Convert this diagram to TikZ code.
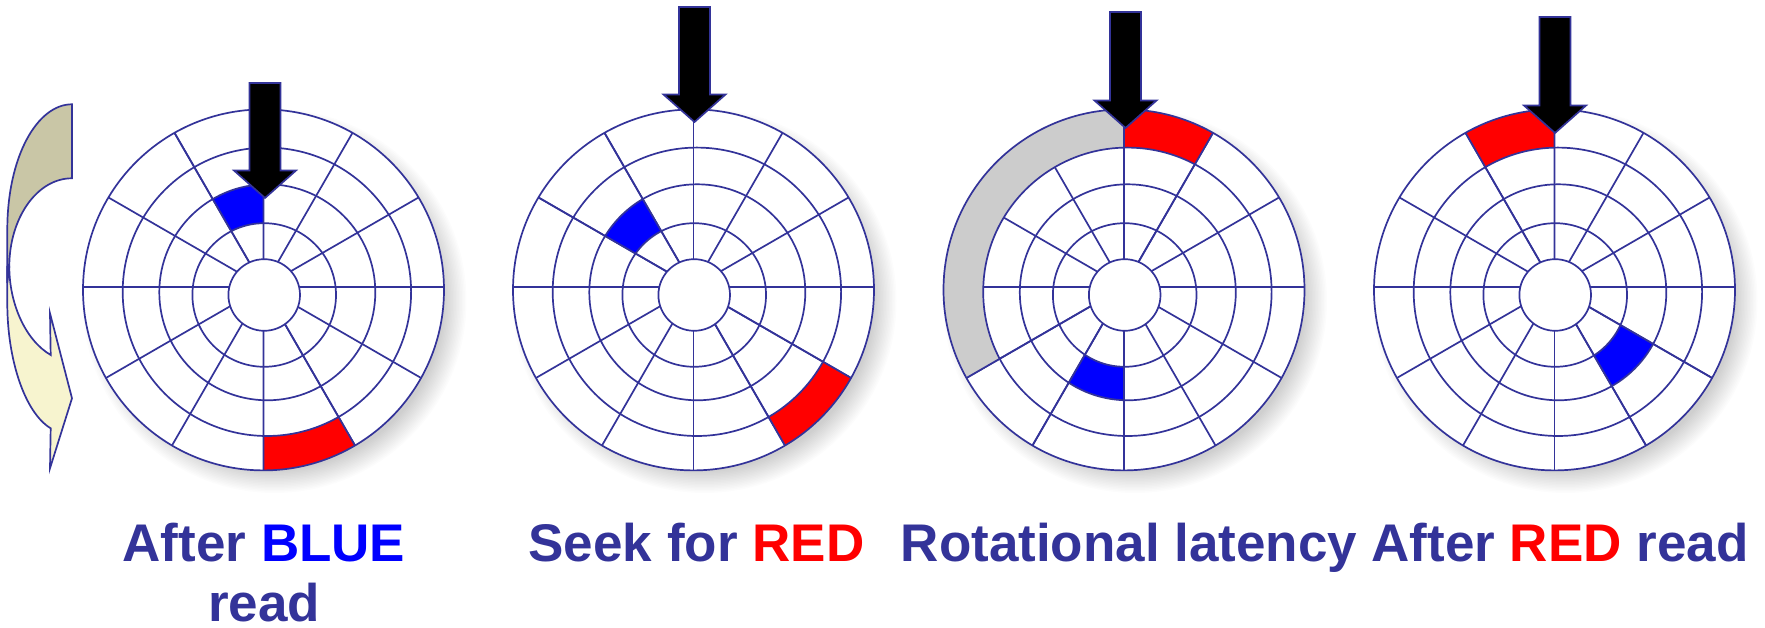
\documentclass[tikz,border=0pt]{standalone}
\usepackage{fontspec}
\setmainfont{Liberation Sans}
\definecolor{ink}{HTML}{333399}
\definecolor{olive}{HTML}{C9C6A6}
\definecolor{cream}{HTML}{F7F4CF}
\definecolor{lat}{HTML}{CCCCCC}
\tikzset{
  x=1pt,y=1pt,
  disc line/.style={draw=ink,line width=1.7pt},
  pointer/.style={draw=ink,fill=black,line width=1.7pt,line join=miter},
  caption/.style={anchor=base,font=\bfseries\fontsize{53}{60}\selectfont,text=ink,inner sep=0pt},
  turn/.style={draw=ink,line width=1.7pt,line join=miter},
}
\def\pO{(0,-2.9) circle [radius=180.5]}
\def\pD{(3.4,-4.8) circle [radius=144.2]}
\def\pC{(3.8,-5.3) circle [radius=108]}
\def\pB{(0.7,-8) circle [radius=71.8]}
\def\pA{(0.7,-8) circle [radius=35.8]}
\newcommand{\sectorfill}[4]{%
  \begin{scope}
    \clip (0,0) -- (#2:420) -- ({(#2+#3)/2}:420) -- (#3:420) -- cycle;
    \fill[#4,even odd rule] #1;
  \end{scope}
  \begin{scope}
    \clip \pO;
    \draw[disc line,draw=ink] (0,0) -- (#2:420) (0,0) -- (#3:420);
  \end{scope}}
\newcommand{\harddisc}[3]{%
  \begin{scope}[shift={(#1,#2)}]
    \foreach \k in {0,...,15}{%
      \fill[black,opacity=0.011] (11,-14) circle [radius={192-1.5*\k}];
    }
    \fill[white] \pO;
    \begin{scope}
      \clip \pO;
      \foreach \a in {0,30,...,330}{\draw[disc line] (0,0) -- (\a:420);}
    \end{scope}
    #3
    \draw[disc line] \pD;
    \draw[disc line] \pC;
    \draw[disc line] \pB;
    \draw[disc line,fill=white] \pA;
    \draw[disc line] \pO;
  \end{scope}}
\newcommand{\pointerarrow}[3]{%
  \draw[pointer] (#1,#2) -- ++(31,27.5) -- ++(-15.5,0) -- (#1+15.5,#3) -- (#1-15.5,#3) -- (#1-15.5,#2+27.5) -- ++(-15.5,0) -- cycle;}
\begin{document}
\begin{tikzpicture}
\useasboundingbox (0,0) rectangle (1765,628);
\fill[white] (0,0) rectangle (1765,628);
% turn arrow
\path[turn,fill=cream] (9.3,361.3) .. controls (9.3,325) and (25,288) .. (50.7,273)
  -- (50,314.7) -- (72,229.7) -- (50,159.7) -- (50.7,199.7)
  .. controls (25,215) and (7.3,268) .. (7.3,324.7) -- (7.3,361.3) -- cycle;
\path[turn,fill=olive] (72,523.7) .. controls (37,523.7) and (7.3,471) .. (7.3,398) -- (7.3,345)
  -- (9.3,361.3) .. controls (9.3,410) and (37,449.7) .. (72,449.7) -- cycle;
% discs
\harddisc{263.5}{341}{%
  \sectorfill{\pB \pC}{90}{120}{blue}
  \sectorfill{\pO \pD}{270}{300}{red}}
\harddisc{693.5}{341}{%
  \sectorfill{\pB \pC}{120}{150}{blue}
  \sectorfill{\pO \pD}{300}{330}{red}}
\harddisc{1124}{341}{%
  \sectorfill{\pO \pD}{90}{210}{lat}
  \sectorfill{\pO \pD}{60}{90}{red}
  \sectorfill{\pB \pC}{240}{270}{blue}}
\harddisc{1554.5}{341}{%
  \sectorfill{\pO \pD}{90}{120}{red}
  \sectorfill{\pB \pC}{300}{330}{blue}}
% pointers
\pointerarrow{265}{430}{545}
\pointerarrow{694.5}{506}{621}
\pointerarrow{1125.5}{500}{616}
\pointerarrow{1555}{495}{611}
% captions
\node[caption] (capa) at (264,66.5) {After \textcolor{blue}{BLUE}};
\node[caption] (capb) at (264,6) {read};
\node[caption] (capc) at (696.5,66.5) {Seek for \textcolor{red}{RED}};
\node[caption] (capd) at (1129,66.5) {Rotational latency};
\node[caption] (cape) at (1560,66.5) {After \textcolor{red}{RED} read};
\end{tikzpicture}
\end{document}
